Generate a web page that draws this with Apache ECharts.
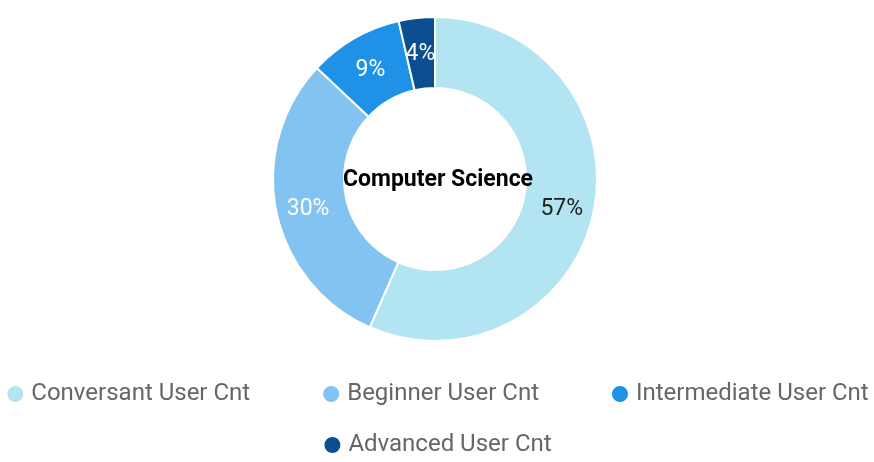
<!DOCTYPE html>
<html>
<head>
<meta charset="utf-8">
<script src="https://cdn.jsdelivr.net/npm/echarts@6/dist/echarts.min.js"></script>
<style>
  html, body { margin: 0; padding: 0; background: #fff; }
  #chart { width: 874px; height: 462px; }
</style>
</head>
<body>
<div id="chart"></div>
<script>
const titleText = 'Computer Science'
const categories = ['Conversant User Cnt', 'Beginner User Cnt', 'Intermediate User Cnt', 'Advanced User Cnt']
const values = [566, 304, 94, 36]
const colors = ['#b2e4f2', '#83c3f1', '#1f92e8', '#0b4f90']
const labelColors = ['#222', '#fff', '#fff', '#fff']

const chart = echarts.init(document.getElementById('chart'))

// legend is split in two rows, each row centred
const legendBase = {
  left: 'center',
  padding: 0,
  icon: 'circle',
  itemWidth: 18,
  itemHeight: 18,
  itemGap: 71,
  textStyle: {
    fontFamily: 'Roboto',
    fontSize: 24,
    color: '#666',
    padding: [0, 0, 0, 2],
  },
}

const option = {
  title: {
    text: titleText,
    left: 433,
    top: 175,
    textAlign: 'center',
    textVerticalAlign: 'middle',
    textStyle: {
      fontFamily: 'Roboto',
      fontSize: 23,
      fontWeight: 'bold',
      color: '#000',
    },
  },
  legend: [
    { ...legendBase, top: 382, data: categories.slice(0, 3) },
    { ...legendBase, top: 433, data: categories.slice(3) },
  ],
  series: [
    {
      type: 'pie',
      center: [435, 179],
      radius: [91, 162],
      startAngle: 90,
      clockwise: true,
      itemStyle: {
        borderColor: '#fff',
        borderWidth: 2,
      },
      label: {
        position: 'inside',
        fontFamily: 'Roboto',
        fontSize: 23,
        offset: [0, 4],
        formatter: (p) => Math.round(p.percent) + '%',
      },
      labelLine: { show: false },
      emphasis: { scale: false },
      data: categories.map((name, i) => ({
        name,
        value: values[i],
        itemStyle: { color: colors[i] },
        label: { color: labelColors[i] },
      })),
    },
  ],
}

chart.setOption(option)
</script>
</body>
</html>
